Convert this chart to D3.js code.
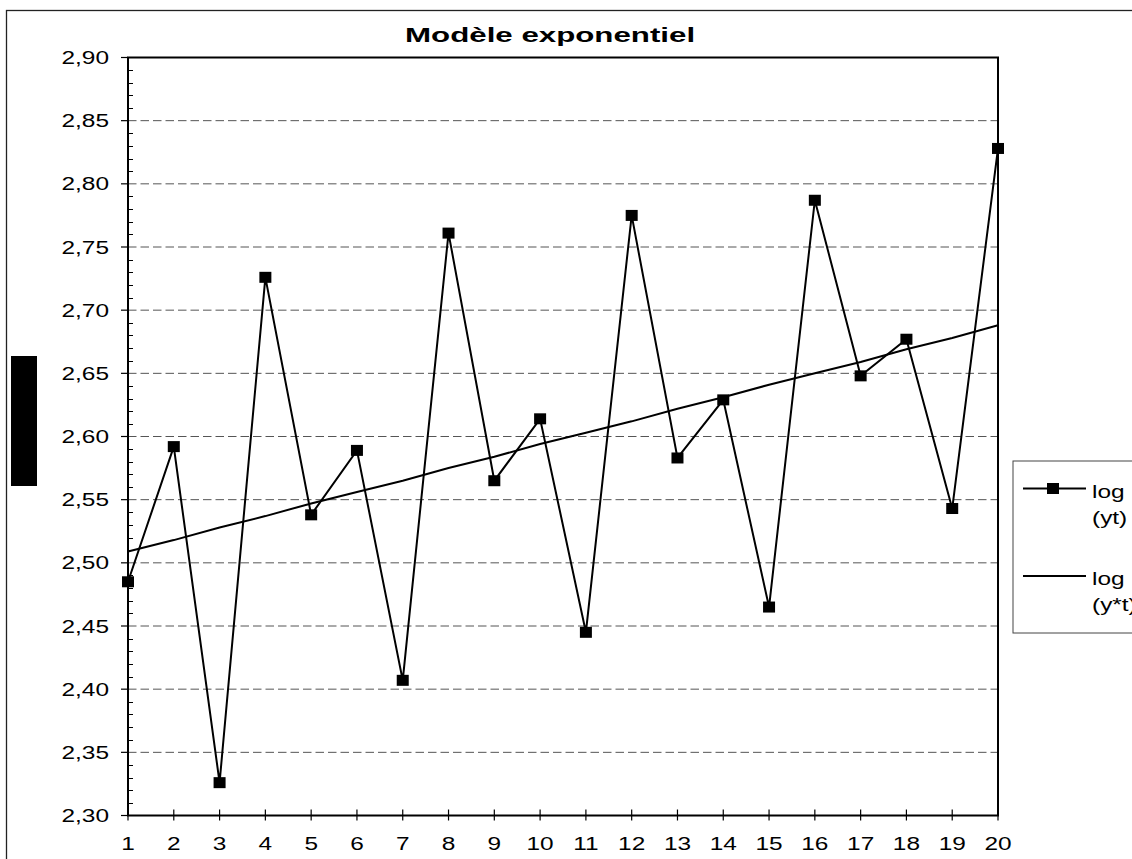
<!DOCTYPE html>
<html>
<head>
<meta charset="utf-8">
<script src="https://cdn.jsdelivr.net/npm/d3@7"></script>
<style>
  body { margin: 0; background: #fff; }
  svg { display: block; }
</style>
</head>
<body>
<div id="chart"></div>
<script>
// data
var periods = [1, 2, 3, 4, 5, 6, 7, 8, 9, 10, 11, 12, 13, 14, 15, 16, 17, 18, 19, 20];
var logYt = [2.485, 2.592, 2.326, 2.726, 2.538, 2.589, 2.407, 2.761, 2.565, 2.614,
             2.445, 2.775, 2.583, 2.629, 2.465, 2.787, 2.648, 2.677, 2.543, 2.828];
var logTrend = [2.509, 2.518, 2.528, 2.537, 2.547, 2.556, 2.565, 2.575, 2.584, 2.594,
                2.603, 2.612, 2.622, 2.631, 2.641, 2.650, 2.659, 2.669, 2.678, 2.688];
var yTickValues = [2.30, 2.35, 2.40, 2.45, 2.50, 2.55, 2.60, 2.65, 2.70, 2.75, 2.80, 2.85, 2.90];
var legendLabels = [["log", "(yt)"], ["log", "(y*t)"]];
var chartTitle = "Modèle exponentiel";

var W = 1132, H = 859;
var plotL = 128, plotR = 998, plotT = 57.5, plotB = 815.5;
var font = "'Liberation Sans', Arial, sans-serif";
var sx = 1.32; // text in the original is stretched horizontally

var svg = d3.select("#chart").append("svg")
  .attr("width", W).attr("height", H);

// outer frame (runs off the right and bottom of the picture)
svg.append("rect")
  .attr("x", 6.5).attr("y", 10.5)
  .attr("width", W + 20).attr("height", H + 20)
  .attr("fill", "#fff").attr("stroke", "#222").attr("stroke-width", 1.3);

var x = d3.scaleLinear().domain([1, 20]).range([plotL, plotR]);
var y = d3.scaleLinear().domain([2.30, 2.90]).range([plotB, plotT]);

// dashed gridlines
svg.append("g").selectAll("line")
  .data(yTickValues.slice(1, -1))
  .enter().append("line")
    .attr("x1", plotL).attr("x2", plotR)
    .attr("y1", function (d) { return y(d); })
    .attr("y2", function (d) { return y(d); })
    .attr("stroke", "#555").attr("stroke-width", 1)
    .attr("stroke-dasharray", "8.5,4");

// plot frame
svg.append("rect")
  .attr("x", plotL).attr("y", plotT)
  .attr("width", plotR - plotL).attr("height", plotB - plotT)
  .attr("fill", "none").attr("stroke", "#000").attr("stroke-width", 2);

// y axis: major ticks outside, minor ticks inside
var minor = d3.range(0, 61).map(function (i) { return 2.30 + i * 0.01; })
  .filter(function (d, i) { return i % 5 !== 0; });
svg.append("g").selectAll("line")
  .data(minor)
  .enter().append("line")
    .attr("x1", plotL).attr("x2", plotL + 5)
    .attr("y1", function (d) { return Math.round(y(d)) + 0.5; })
    .attr("y2", function (d) { return Math.round(y(d)) + 0.5; })
    .attr("stroke", "#000").attr("stroke-width", 1);
svg.append("g").selectAll("line")
  .data(yTickValues)
  .enter().append("line")
    .attr("x1", plotL - 7).attr("x2", plotL)
    .attr("y1", function (d) { return y(d); })
    .attr("y2", function (d) { return y(d); })
    .attr("stroke", "#000").attr("stroke-width", 1.2);

var fmt = d3.format(".2f");
svg.append("g").selectAll("text")
  .data(yTickValues)
  .enter().append("text")
    .attr("transform", function (d) { return "translate(109," + (y(d) + 6.6) + ") scale(" + sx + ",1)"; })
    .attr("text-anchor", "end")
    .style("font-family", font)
    .style("font-size", "18.5px")
    .text(function (d) { return fmt(d).replace(".", ","); });

// x axis ticks (crossing) and labels
svg.append("g").selectAll("line")
  .data(periods)
  .enter().append("line")
    .attr("x1", function (d) { return x(d); })
    .attr("x2", function (d) { return x(d); })
    .attr("y1", plotB - 6).attr("y2", plotB + 5)
    .attr("stroke", "#000").attr("stroke-width", 1.2);
svg.append("g").selectAll("text")
  .data(periods)
  .enter().append("text")
    .attr("transform", function (d) { return "translate(" + x(d) + ",850) scale(" + sx + ",1)"; })
    .attr("text-anchor", "middle")
    .style("font-family", font)
    .style("font-size", "18.5px")
    .text(function (d) { return d; });

// trend line log(y*t)
var line = d3.line()
  .x(function (d, i) { return x(periods[i]); })
  .y(function (d) { return y(d); });
svg.append("path")
  .datum(logTrend)
  .attr("d", line)
  .attr("fill", "none").attr("stroke", "#000").attr("stroke-width", 2);

// observed log(yt)
svg.append("path")
  .datum(logYt)
  .attr("d", line)
  .attr("fill", "none").attr("stroke", "#000").attr("stroke-width", 2)
  .attr("stroke-linejoin", "miter");
svg.append("g").selectAll("rect")
  .data(logYt)
  .enter().append("rect")
    .attr("x", function (d, i) { return x(periods[i]) - 6; })
    .attr("y", function (d) { return y(d) - 5.5; })
    .attr("width", 12).attr("height", 11)
    .attr("fill", "#000");

// title
svg.append("text")
  .attr("transform", "translate(405,41.5) scale(1.49,1)")
  .style("font-family", font)
  .style("font-size", "21px")
  .style("font-weight", "bold")
  .text(chartTitle);

// black block on the left
svg.append("rect")
  .attr("x", 11).attr("y", 356).attr("width", 26).attr("height", 130)
  .attr("fill", "#000");

// legend
var legend = svg.append("g");
legend.append("rect")
  .attr("x", 1013).attr("y", 461).attr("width", 140).attr("height", 172)
  .attr("fill", "#fff").attr("stroke", "#444").attr("stroke-width", 1);
var rowY = [488.5, 576];
legend.selectAll("line.key")
  .data(rowY)
  .enter().append("line")
    .attr("x1", 1023).attr("x2", 1086)
    .attr("y1", function (d) { return d; }).attr("y2", function (d) { return d; })
    .attr("stroke", "#000").attr("stroke-width", 2);
legend.append("rect")
  .attr("x", 1047).attr("y", rowY[0] - 5.5).attr("width", 12).attr("height", 11)
  .attr("fill", "#000");
legendLabels.forEach(function (lbl, i) {
  lbl.forEach(function (t, j) {
    legend.append("text")
      .attr("transform", "translate(1092," + (rowY[i] + 9 + j * 26) + ") scale(" + sx + ",1)")
      .style("font-family", font)
      .style("font-size", "18.5px")
      .text(t);
  });
});
</script>
</body>
</html>
